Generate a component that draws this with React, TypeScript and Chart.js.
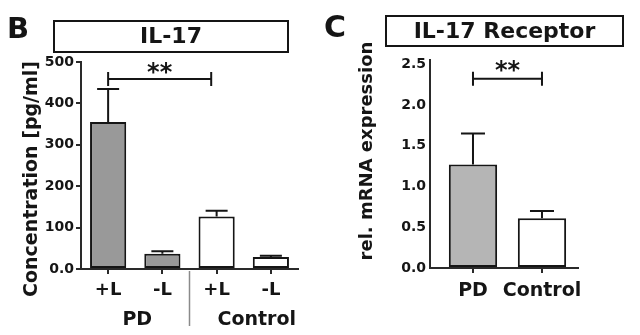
import React, { useEffect, useRef } from 'react';
import { Chart, registerables } from 'chart.js';

Chart.register(...registerables);

// ---------- Panel B: IL-17 ----------
const il17Categories = ['+L', '-L', '+L', '-L'];
const il17Groups = ['PD', 'Control'];
const il17Means = [355, 37, 127, 29];
const il17Errors = [80, 6, 14, 3];
const il17Fills = ['#999999', '#999999', '#ffffff', '#ffffff'];
const il17TickValues = [0, 100, 200, 300, 400, 500];
const il17TickLabels = ['0.0', '100', '200', '300', '400', '500'];
const il17Bracket = { from: 0, to: 1.9, value: 459, label: '**' };

// ---------- Panel C: IL-17 Receptor ----------
const receptorCategories = ['PD', 'Control'];
const receptorMeans = [1.27, 0.61];
const receptorErrors = [0.38, 0.09];
const receptorFills = ['#b5b5b5', '#ffffff'];
const receptorTickValues = [0, 0.5, 1.0, 1.5, 2.0, 2.5];
const receptorTickLabels = ['0.0', '0.5', '1.0', '1.5', '2.0', '2.5'];
const receptorBracket = { from: 0, to: 1, value: 2.32, label: '**' };

const FONT = "'DejaVu Sans', 'Liberation Sans', sans-serif";
const INK = '#151515';
const AXIS = '#2a2a2a';

function drawErrorBars(chart: any, means: number[], errors: number[], capHalf: number) {
  const { ctx } = chart;
  const y = chart.scales.y;
  const meta = chart.getDatasetMeta(0);
  ctx.save();
  ctx.strokeStyle = INK;
  ctx.lineWidth = 2;
  meta.data.forEach((bar: any, i: number) => {
    const base = y.getPixelForValue(means[i]);
    const top = y.getPixelForValue(means[i] + errors[i]);
    ctx.beginPath();
    ctx.moveTo(bar.x, base);
    ctx.lineTo(bar.x, top);
    ctx.moveTo(bar.x - capHalf, top);
    ctx.lineTo(bar.x + capHalf, top);
    ctx.stroke();
  });
  ctx.restore();
}

function drawBracket(chart: any, b: { from: number; to: number; value: number; label: string }, starDy: number) {
  const { ctx } = chart;
  const x = chart.scales.x;
  const y = chart.scales.y;
  const x1 = x.getPixelForValue(b.from);
  const x2 = x.getPixelForValue(b.to);
  const yy = y.getPixelForValue(b.value);
  ctx.save();
  ctx.strokeStyle = INK;
  ctx.lineWidth = 2;
  ctx.beginPath();
  ctx.moveTo(x1, yy);
  ctx.lineTo(x2, yy);
  ctx.moveTo(x1, yy - 7);
  ctx.lineTo(x1, yy + 7);
  ctx.moveTo(x2, yy - 7);
  ctx.lineTo(x2, yy + 7);
  ctx.stroke();
  ctx.fillStyle = INK;
  ctx.font = `bold 24px ${FONT}`;
  ctx.textAlign = 'center';
  ctx.textBaseline = 'alphabetic';
  ctx.fillText(b.label, (x1 + x2) / 2, yy + starDy);
  ctx.restore();
}

function drawTitleBox(ctx: any, text: string, l: number, t: number, r: number, b: number, size: number) {
  ctx.save();
  ctx.strokeStyle = INK;
  ctx.lineWidth = 2;
  ctx.strokeRect(l, t, r - l, b - t);
  ctx.fillStyle = INK;
  ctx.font = `bold ${size}px ${FONT}`;
  ctx.textAlign = 'center';
  ctx.textBaseline = 'middle';
  ctx.fillText(text, (l + r) / 2, (t + b) / 2 + 1);
  ctx.restore();
}

function drawLetter(ctx: any, text: string, x: number, baseline: number, size: number) {
  ctx.save();
  ctx.fillStyle = INK;
  ctx.font = `bold ${size}px ${FONT}`;
  ctx.textAlign = 'left';
  ctx.textBaseline = 'alphabetic';
  ctx.fillText(text, x, baseline);
  ctx.restore();
}

function drawYTitle(ctx: any, text: string, cx: number, cy: number, size: number) {
  ctx.save();
  ctx.translate(cx, cy);
  ctx.rotate(-Math.PI / 2);
  ctx.fillStyle = INK;
  ctx.font = `bold ${size}px ${FONT}`;
  ctx.textAlign = 'center';
  ctx.textBaseline = 'middle';
  ctx.fillText(text, 0, 0);
  ctx.restore();
}

const il17Plugin = {
  id: 'il17Decor',
  afterDraw(chart: any) {
    const { ctx } = chart;
    const x = chart.scales.x;
    drawErrorBars(chart, il17Means, il17Errors, 11);
    drawBracket(chart, il17Bracket, 1);
    drawTitleBox(ctx, 'IL-17', 54, 21, 288, 52, 22);
    drawLetter(ctx, 'B', 7, 38, 29);
    drawYTitle(ctx, 'Concentration [pg/ml]', 32, 179, 19);
    // group separator
    const sep = x.getPixelForValue(1.5);
    ctx.save();
    ctx.strokeStyle = '#8a8a8a';
    ctx.lineWidth = 1.5;
    ctx.beginPath();
    ctx.moveTo(sep, chart.chartArea.bottom + 2);
    ctx.lineTo(sep, 326);
    ctx.stroke();
    // group labels
    ctx.fillStyle = INK;
    ctx.font = `bold 19px ${FONT}`;
    ctx.textAlign = 'center';
    ctx.textBaseline = 'alphabetic';
    const shifts = [2, 13];
    il17Groups.forEach((g, gi) => {
      const a = x.getPixelForValue(gi * 2);
      const b = x.getPixelForValue(gi * 2 + 1);
      ctx.fillText(g, (a + b) / 2 + shifts[gi], 325);
    });
    ctx.restore();
  },
};

const receptorPlugin = {
  id: 'receptorDecor',
  afterDraw(chart: any) {
    const { ctx } = chart;
    drawErrorBars(chart, receptorMeans, receptorErrors, 12);
    drawBracket(chart, receptorBracket, -1);
    drawTitleBox(ctx, 'IL-17 Receptor', 66, 16, 303, 46, 22);
    drawLetter(ctx, 'C', 4, 37, 30);
    drawYTitle(ctx, 'rel. mRNA expression', 47, 151, 18);
  },
};

export default function App() {
  const leftRef = useRef<HTMLCanvasElement | null>(null);
  const rightRef = useRef<HTMLCanvasElement | null>(null);

  useEffect(() => {
    const left = new Chart(leftRef.current as HTMLCanvasElement, {
      type: 'bar',
      data: {
        labels: il17Categories,
        datasets: [
          {
            data: il17Means,
            backgroundColor: il17Fills,
            borderColor: INK,
            borderWidth: 2,
            borderSkipped: false,
            categoryPercentage: 1,
            barPercentage: 0.667,
          } as any,
        ],
      },
      options: {
        responsive: false,
        animation: false,
        devicePixelRatio: 1,
        layout: { padding: { left: 0, top: 62, right: 22, bottom: 26 } },
        plugins: { legend: { display: false }, tooltip: { enabled: false } },
        scales: {
          x: {
            offset: true,
            grid: { offset: false, drawOnChartArea: false, tickLength: 5, color: AXIS, lineWidth: 2 },
            border: { color: AXIS, width: 2 },
            ticks: { font: { family: FONT, size: 18, weight: 'bold' }, color: INK, padding: 6, maxRotation: 0 },
            afterFit: (s: any) => {
              s.height = 40;
            },
          },
          y: {
            min: 0,
            max: 500,
            afterBuildTicks: (s: any) => {
              s.ticks = il17TickValues.map((v) => ({ value: v }));
            },
            ticks: {
              callback: (v: any) => il17TickLabels[il17TickValues.indexOf(Number(v))],
              font: { family: FONT, size: 14, weight: 'bold' },
              color: INK,
              padding: 2,
            },
            grid: { drawOnChartArea: false, tickLength: 5, color: AXIS, lineWidth: 2 },
            border: { color: AXIS, width: 2 },
            afterFit: (s: any) => {
              s.width = 81;
            },
          },
        },
      } as any,
      plugins: [il17Plugin],
    });

    const right = new Chart(rightRef.current as HTMLCanvasElement, {
      type: 'bar',
      data: {
        datasets: [
          {
            data: receptorMeans.map((m, i) => ({ x: i, y: m })),
            backgroundColor: receptorFills,
            borderColor: INK,
            borderWidth: 2,
            borderSkipped: false,
            categoryPercentage: 1,
            barPercentage: 0.7,
          } as any,
        ],
      },
      options: {
        responsive: false,
        animation: false,
        devicePixelRatio: 1,
        layout: { padding: { left: 0, top: 60, right: 62, bottom: 27 } },
        plugins: { legend: { display: false }, tooltip: { enabled: false } },
        scales: {
          x: {
            type: 'linear',
            min: -0.623,
            max: 1.522,
            offset: false,
            afterBuildTicks: (s: any) => {
              s.ticks = receptorCategories.map((_, i) => ({ value: i }));
            },
            grid: { offset: false, drawOnChartArea: false, tickLength: 5, color: AXIS, lineWidth: 2 },
            border: { color: AXIS, width: 2 },
            ticks: {
              callback: (v: any) => receptorCategories[Number(v)] ?? '',
              font: { family: FONT, size: 19, weight: 'bold' },
              color: INK,
              padding: 7,
              maxRotation: 0,
            },
            afterFit: (s: any) => {
              s.height = 40;
            },
          },
          y: {
            min: 0,
            max: 2.55,
            afterBuildTicks: (s: any) => {
              s.ticks = receptorTickValues.map((v) => ({ value: v }));
            },
            ticks: {
              callback: (v: any) => receptorTickLabels[receptorTickValues.indexOf(Number(v))],
              font: { family: FONT, size: 14, weight: 'bold' },
              color: INK,
              padding: 4,
            },
            grid: { drawOnChartArea: false, drawTicks: false, color: AXIS, lineWidth: 2 },
            border: { color: AXIS, width: 2 },
            afterFit: (s: any) => {
              s.width = 110;
            },
          },
        },
      } as any,
      plugins: [receptorPlugin],
    });

    return () => {
      left.destroy();
      right.destroy();
    };
  }, []);

  return (
    <div style={{ position: 'fixed', left: 0, top: 0, width: 640, height: 335, background: '#ffffff' }}>
      <canvas ref={leftRef} width={320} height={335} style={{ position: 'absolute', left: 0, top: 0, width: 320, height: 335 }} />
      <canvas ref={rightRef} width={320} height={335} style={{ position: 'absolute', left: 320, top: 0, width: 320, height: 335 }} />
    </div>
  );
}
